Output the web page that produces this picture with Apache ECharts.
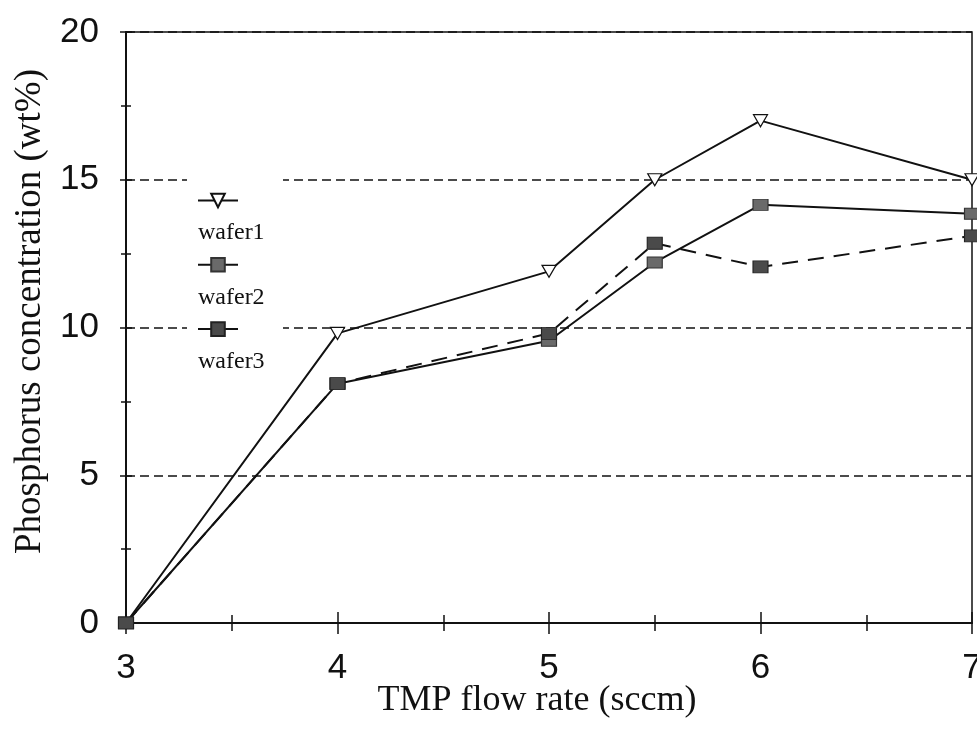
<!DOCTYPE html>
<html>
<head>
<meta charset="utf-8">
<script src="https://cdn.jsdelivr.net/npm/echarts@6/dist/echarts.min.js"></script>
<style>
html,body{margin:0;padding:0;background:#fff;}
#chart{width:977px;height:731px;}
</style>
</head>
<body>
<div id="chart"></div>
<script>
var xValues = [3, 4, 5, 5.5, 6, 7];
var wafer1 = [0, 9.8, 11.9, 15.0, 17.0, 15.0];
var wafer2 = [0, 8.1, 9.55, 12.2, 14.15, 13.85];
var wafer3 = [0, 8.1, 9.8, 12.85, 12.05, 13.1];
var seriesNames = ['wafer1', 'wafer2', 'wafer3'];
var xTitle = 'TMP flow rate (sccm)';
var yTitle = 'Phosphorus concentration (wt%)';

function pairs(ys) { return xValues.map(function (x, i) { return [x, ys[i]]; }); }

var chart = echarts.init(document.getElementById('chart'));
var sans = 'Liberation Sans';
var serif = 'Liberation Serif';
var gridPos = { left: 126, right: 5, top: 32, bottom: 108 };

var option = {
  animation: false,
  backgroundColor: '#fff',
  grid: Object.assign({ show: true, borderColor: '#111', borderWidth: 1.5, backgroundColor: 'transparent', containLabel: false, outerBoundsMode: 'none' }, gridPos),
  xAxis: [{
    type: 'value', min: 3, max: 7, interval: 1, position: 'bottom',
    name: xTitle, nameLocation: 'middle', nameGap: 60, nameMoveOverlap: false,
    nameTextStyle: { fontFamily: serif, fontSize: 36, color: '#111', padding: [0, 24, 0, 0] },
    axisLine: { show: true, lineStyle: { color: '#111', width: 2 } },
    axisTick: { show: true, length: 11, lineStyle: { color: '#111', width: 1.5 } },
    minorTick: { show: true, splitNumber: 2, length: 8, lineStyle: { color: '#111', width: 1.5 } },
    axisLabel: { fontFamily: sans, fontSize: 35, color: '#111', margin: 28 },
    splitLine: { show: false }
  }, {
    type: 'value', min: 3, max: 7, interval: 1, position: 'bottom',
    axisLine: { show: false },
    axisTick: { show: true, inside: true, length: 11, lineStyle: { color: '#111', width: 1.5 } },
    minorTick: { show: true, splitNumber: 2, length: 8, lineStyle: { color: '#111', width: 1.5 } },
    axisLabel: { show: false },
    splitLine: { show: false }
  }],
  yAxis: [{
    type: 'value', min: 0, max: 20, interval: 5, position: 'left',
    name: yTitle, nameLocation: 'middle', nameGap: 77, nameMoveOverlap: false,
    nameTextStyle: { fontFamily: serif, fontSize: 37, color: '#111', padding: [0, 0, 0, 32] },
    axisLine: { show: true, lineStyle: { color: '#111', width: 2 } },
    axisTick: { show: true, length: 6, lineStyle: { color: '#111', width: 1.5 } },
    minorTick: { show: true, splitNumber: 2, length: 5, lineStyle: { color: '#111', width: 1.5 } },
    axisLabel: { fontFamily: sans, fontSize: 35, color: '#111', margin: 27 },
    splitLine: { show: true, lineStyle: { color: '#111', width: 1.5, type: [9, 5] } }
  }, {
    type: 'value', min: 0, max: 20, interval: 5, position: 'left',
    axisLine: { show: false },
    axisTick: { show: true, inside: true, length: 6, lineStyle: { color: '#111', width: 1.5 } },
    minorTick: { show: true, splitNumber: 2, length: 5, lineStyle: { color: '#111', width: 1.5 } },
    axisLabel: { show: false },
    splitLine: { show: false }
  }],
  legend: {
    orient: 'vertical', left: 187, top: 174,
    data: seriesNames,
    itemWidth: 40, itemHeight: 17, itemGap: 48,
    backgroundColor: '#fff',
    padding: [18, 44, 40, 10],
    formatter: function () { return ''; },
    textStyle: { fontSize: 1 }
  },
  graphic: [
    { type: 'text', left: 198, top: 221, z: 100, style: { text: seriesNames[0], font: '24px "Liberation Serif"', fill: '#111' } },
    { type: 'text', left: 198, top: 286, z: 100, style: { text: seriesNames[1], font: '24px "Liberation Serif"', fill: '#111' } },
    { type: 'text', left: 198, top: 350, z: 100, style: { text: seriesNames[2], font: '24px "Liberation Serif"', fill: '#111' } }
  ],
  series: [{
    name: seriesNames[0], type: 'line', data: pairs(wafer1), clip: false,
    symbol: 'triangle', symbolRotate: 180, symbolSize: [14, 12],
    lineStyle: { color: '#111', width: 2 },
    itemStyle: { color: '#fff', borderColor: '#111', borderWidth: 1.2 },
    z: 3
  }, {
    name: seriesNames[1], type: 'line', data: pairs(wafer2), clip: false,
    symbol: 'rect', symbolSize: [15, 11],
    lineStyle: { color: '#111', width: 2 },
    itemStyle: { color: '#6a6a6a', borderColor: '#333', borderWidth: 1 },
    z: 4
  }, {
    name: seriesNames[2], type: 'line', data: pairs(wafer3), clip: false,
    symbol: 'rect', symbolSize: [15, 12],
    lineStyle: { color: '#111', width: 2, type: [16, 10] },
    itemStyle: { color: '#4a4a4a', borderColor: '#222', borderWidth: 1 },
    z: 5
  }]
};
chart.setOption(option);
</script>
</body>
</html>
